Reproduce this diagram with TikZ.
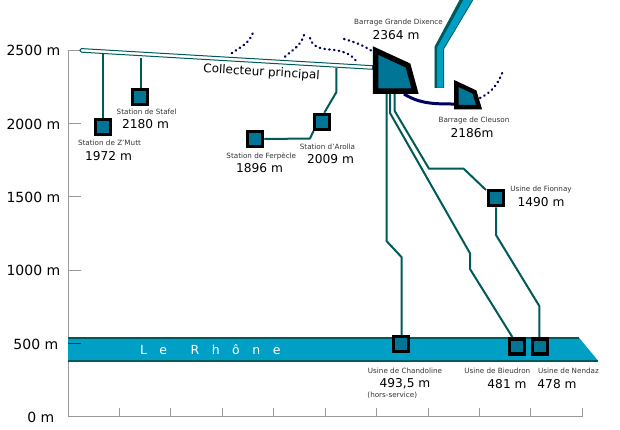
\documentclass[tikz,border=0pt]{standalone}
\usepackage{fontspec}
\setmainfont{DejaVu Sans}
\definecolor{pipe}{HTML}{005A5A}
\definecolor{river}{HTML}{00A0C6}
\definecolor{fill1}{HTML}{007596}
\definecolor{navy1}{HTML}{000060}
\definecolor{axisg}{HTML}{999999}
\definecolor{smalltxt}{HTML}{333333}
\tikzset{
  plant/.style={draw=black,line width=3.5pt,fill=fill1,minimum size=15pt,inner sep=0pt,outer sep=1.75pt},
  penstock/.style={draw=pipe,line width=2pt,line join=round},
  axisline/.style={draw=axisg,line width=1pt},
  dots/.style={draw=navy1,line width=2.3pt,line cap=round,dash pattern=on 0.6pt off 4.2pt},
  damshape/.style={draw=black,fill=fill1,line join=miter},
  small/.style={font=\fontsize{7.2}{9}\selectfont,text=smalltxt,inner sep=0pt},
  big/.style={font=\fontsize{12.2}{15}\selectfont,text=black,inner sep=0pt},
  axl/.style={font=\fontsize{14}{16}\selectfont,text=black,inner sep=0pt,anchor=east},
}
\begin{document}
\begin{tikzpicture}[x=1pt,y=-1pt]
\useasboundingbox (0,0) rectangle (620,429);
\clip (0,0) rectangle (620,429);
% axis
\draw[axisline] (68,50) -- (68,416.5) -- (582.3,416.5) -- (582.3,407.5);
\foreach \y in {50,123,196.7,270,343,416.5} \draw[axisline] (68,\y) -- (81,\y);
\foreach \x in {119,170.7,222,273.7,325.3,376.7,428,479.3,530.7} \draw[axisline] (\x,416.5) -- (\x,407.5);
\node[axl] (a1) at (60.5,50.5) {2500 m};
\node[axl] (a2) at (60.5,124) {2000 m};
\node[axl] (a3) at (60.5,197) {1500 m};
\node[axl] (a4) at (60.5,270.5) {1000 m};
\node[axl] (a5) at (58.5,344) {500 m};
\node[axl] (a6) at (54.5,417) {0 m};
% river
\fill[river] (68,338) -- (579.3,338) -- (598.3,361) -- (68,361) -- cycle;
\draw[pipe,line width=2pt] (68,338) -- (579.3,338);
\draw[pipe,line width=2pt] (68,361) -- (598.3,361);
\draw[draw=pipe!70!black,line width=.8pt] (68,343) -- (81,343);
\node[font=\fontsize{12.5}{14}\selectfont\addfontfeature{LetterSpace=100},text=white,inner sep=0pt,anchor=west] (rh) at (140,349.5) {Le\hspace{7pt} Rhône};
% collector
\path[draw=pipe,line width=1pt,fill=white,line join=round] (81.5,48.6) -- (372.7,65.7) -- (372.7,69.3) -- (81.5,52.2) arc[start angle=90,end angle=270,radius=1.8] -- cycle;
\node[rotate=-3.5,font=\fontsize{12}{14}\selectfont,inner sep=0pt] (coll) at (261.5,72.5) {Collecteur principal};
% dotted
\draw[dots] (231.7,53.3) .. controls (240,47) and (249,44) .. (253,32.7);
\draw[dots] (285,56.7) .. controls (292,50) and (301,46) .. (304,35);
\draw[dots] (310,38) .. controls (315,53) and (330,47) .. (343,52) .. controls (350,54) and (354,58) .. (357,62);
\draw[dots] (344,39) .. controls (355,42) and (365,46) .. (372.7,51.7);
\draw[dots] (480,98) .. controls (492,92) and (498,84) .. (502.7,71.7);
% plants
\node[plant] (zmutt) at (103,127) {};
\node[plant] (stafel) at (140,97) {};
\node[plant] (ferp) at (255,139) {};
\node[plant] (arolla) at (322,122) {};
\node[plant] (fion) at (496,198) {};
\node[plant] (chand) at (401,344) {};
\node[plant] (bieu) at (517,346.5) {};
\node[plant] (nend) at (540,346.5) {};
% free ends
\coordinate (cz) at (102.5,52.5);
\coordinate (cs) at (141,58);
\coordinate (ca) at (336.3,68);
\coordinate (d1) at (386.5,92);
\coordinate (d2) at (390,92);
\coordinate (d3) at (394.7,92);
\coordinate (e1) at (401.7,335);
\coordinate (e2) at (512.3,337);
\coordinate (e3) at (539.3,337);
\coordinate (f1) at (486,190);
\coordinate (a7) at (324.3,112.7);
\coordinate (a8) at (313.5,131);
% connectors
\draw[penstock] (cz) -- (cz |- zmutt.north);
\draw[penstock] (cs) -- (cs |- stafel.north);
\draw[penstock] (ca) -- (336.3,92.3) -- (a7);
\draw[penstock] (ferp.east) -- (310,138.5) -- (a8);
\draw[penstock] (d1) -- (386.5,241) -- (401.7,257.3) -- (e1);
\draw[penstock] (d2) -- (390,113) -- (470,253.3) -- (470,269) -- (e2);
\draw[penstock] (d3) -- (394.7,111) -- (429,168.7) -- (463.7,168.7) -- (f1);
\draw[penstock] (fion.south) -- (496,235) -- (539.3,306) -- (e3);
% feed pipe
\path[fill=river,draw=pipe,line width=.8pt] (435,88) -- (435,46.7) -- (461,-2) -- (474,-2) -- (443.6,49) -- (443.6,88) -- cycle;
\draw[pipe,line width=2.4pt] (436,88) -- (436,47) -- (463,-2);
\draw[white,line width=1pt] (434,88.7) -- (445,88.7);
% dam links
\draw[navy1,line width=3pt] (404,94) .. controls (420,104) and (435,104) .. (455,104);
% dams
\path[damshape,line width=5.5pt] (375.5,50.5) -- (408,65.5) -- (415,91) -- (375.5,91) -- cycle;
\path[damshape,line width=4.5pt] (456.3,83.5) -- (474.5,92) -- (479,107) -- (456.3,107) -- cycle;
% labels
\node[small] (l1) at (398.5,23) {Barrage Grande Dixence};
\node[big] (l2) at (396,35) {2364 m};
\node[small] (l3) at (474,121) {Barrage de Cleuson};
\node[big] (l4) at (472,133) {2186m};
\node[small] (l5) at (146.7,112) {Station de Stafel};
\node[big] (l6) at (145.5,124.5) {2180 m};
\node[small] (l7) at (109.5,143.2) {Station de Z'Mutt};
\node[big] (l8) at (108.5,156) {1972 m};
\node[small] (l9) at (261.3,156.3) {Station de Ferpècle};
\node[big] (l10) at (259.5,168.5) {1896 m};
\node[small] (l11) at (327.5,146.5) {Station d'Arolla};
\node[big] (l12) at (330.5,159) {2009 m};
\node[small] (l13) at (541,190) {Usine de Fionnay};
\node[big] (l14) at (541,202.5) {1490 m};
\node[small] (l15) at (405,371) {Usine de Chandoline};
\node[big] (l16) at (405,384) {493,5 m};
\node[small] (l17) at (392.3,395) {(hors-service)};
\node[small] (l18) at (497.3,371) {Usine de Bieudron};
\node[big] (l19) at (507,384) {481 m};
\node[small] (l20) at (568.5,371) {Usine de Nendaz};
\node[big] (l21) at (557,384) {478 m};
\end{tikzpicture}
\end{document}
